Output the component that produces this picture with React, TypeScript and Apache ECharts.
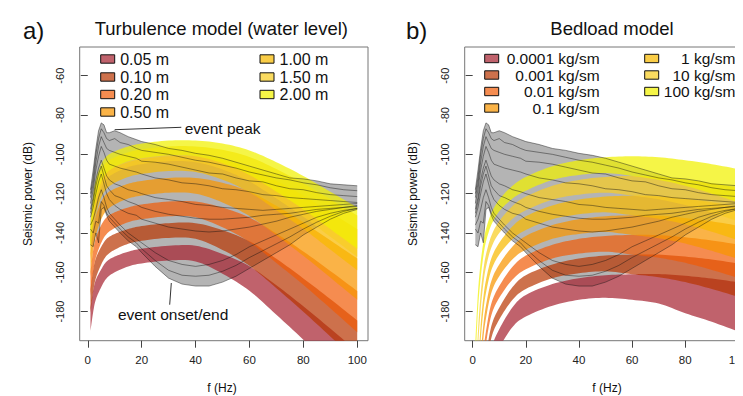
import React, { useEffect, useRef } from "react";
import * as echarts from "echarts";

const FONT = "'Liberation Sans', Arial, Helvetica, sans-serif";

const X_TICKS = [0, 20, 40, 60, 80, 100];
const Y_TICKS = [-180, -160, -140, -120, -100, -80, -60];

const TURB_LABELS = ["0.05 m", "0.10 m", "0.20 m", "0.50 m", "1.00 m", "1.50 m", "2.00 m"];
const BED_LABELS = ["0.0001 kg/sm", "0.001 kg/sm", "0.01 kg/sm", "0.1 kg/sm", "1 kg/sm", "10 kg/sm", "100 kg/sm"];
const BAND_COLORS = [
  "rgba(165,32,46,0.7)",
  "rgba(184,52,0,0.7)",
  "rgba(241,91,5,0.7)",
  "rgba(248,150,0,0.72)",
  "rgba(248,186,0,0.72)",
  "rgba(248,205,34,0.72)",
  "rgba(241,241,0,0.72)",
];

// ---------- observed spectra (gray cloud), same data in both panels ----------
const F_GRAY = [1, 2, 3, 4, 5, 6, 7, 8, 10, 12, 15, 18, 20, 25, 30, 35, 40, 45, 50, 55, 60, 65, 70, 75, 80, 85, 90, 95, 100];
const GRAY_MAX = [-118, -108, -97, -88, -84, -85, -89, -89, -88, -89, -91, -92.5, -93.5, -95, -97, -98, -99.5, -100.5, -102, -104, -106, -108, -110, -112, -112.5, -113.5, -115, -115.5, -116];
const GRAY_MIN = [-146, -147, -140, -145, -128, -127, -131, -134, -137, -140, -144, -147, -150, -157, -163, -166, -167, -167, -165, -162, -158, -154, -150, -146, -141, -137, -133, -130, -128];
const GRAY_L2 = [-120, -112, -100, -92, -87, -89, -92, -93, -92, -94, -95, -97, -98, -99, -100, -101.5, -103, -104, -105.5, -107, -109, -110.5, -112, -113, -114.5, -115.5, -117, -118, -118.5];
const GRAY_L3 = [-122, -115, -104, -96, -91, -94, -97, -98, -99, -100, -101, -102, -103.5, -104, -105, -106.5, -108, -109.5, -110, -112, -113.5, -114, -116, -117.5, -118, -119.5, -120.5, -121, -121.5];
const GRAY_L4 = [-125, -118, -108, -101, -96, -99, -103, -105, -106, -107, -108, -109, -110, -112, -113, -114.5, -115, -116, -117.5, -118, -119, -120.5, -121, -122, -122.5, -123, -123.5, -124, -124.5];
const GRAY_L5 = [-128, -122, -113, -107, -103, -107, -111, -113, -115, -116, -118, -119, -120, -122, -123, -124, -125.5, -126, -127, -127.5, -128, -128.5, -128, -127.5, -127, -126.5, -126, -125.5, -125];
const GRAY_L6 = [-132, -127, -120, -114, -110, -115, -120, -123, -126, -128, -130, -131, -133, -135, -137, -138, -139, -139.5, -139, -138, -137, -135.5, -134, -132, -130.5, -129, -128, -127, -126.5];
const GRAY_L7 = [-136, -133, -128, -122, -118, -122, -127, -130, -133, -136, -140, -143, -145, -150, -154, -156, -157, -156, -154, -151, -147, -144, -141, -138, -135, -132, -130, -128.5, -127.5];
const GRAY_L8 = [-130, -124, -116, -110, -106, -111, -116, -118, -121, -122, -124, -125.5, -127, -129, -130.5, -131.5, -132.5, -133, -133, -132.5, -132, -131, -130.5, -130, -129, -128, -127.5, -127, -126];
const GRAY_L9 = [-138, -140, -134, -135, -124, -126, -130, -132, -135, -138, -142, -145, -148, -154, -159, -161.5, -162, -161.5, -159.5, -156.5, -152.5, -149, -145.5, -142, -138, -134.5, -131.5, -129, -127.5];

// ---------- turbulence model bands (left panel) ----------
const F_TURB = [1, 2, 3, 5, 7, 10, 15, 20, 30, 40, 50, 60, 70, 80, 90, 100];
const T005_TOP = [-177.8, -169.2, -163.8, -158.5, -154.5, -152, -149.5, -148, -146.5, -146.5, -150.7, -156.9, -166.6, -177.3, -188.6, -200.3];
const T005_BOT = [-189.8, -180.2, -173.8, -167.5, -163, -160, -157, -155.5, -154, -154.5, -160.7, -169.4, -181.6, -194.3, -207.6, -221.3];
const T010_TOP = [-168.6, -158.8, -152.9, -147, -143, -140.5, -138, -136.5, -135, -135, -138.6, -144.2, -153.1, -163.1, -173.6, -184.5];
const T010_BOT = [-180.6, -169.8, -162.9, -156, -151.5, -148.5, -145.5, -144, -142.5, -143, -148.6, -156.7, -168.1, -180.1, -192.6, -205.5];
const T020_TOP = [-159.8, -148.9, -142.5, -136, -132, -129.5, -127, -125.5, -124, -124, -127.1, -132.1, -140.3, -149.4, -159.3, -169.5];
const T020_BOT = [-171.8, -159.9, -152.5, -145, -140.5, -137.5, -134.5, -133, -131.5, -132, -137.1, -144.6, -155.3, -166.4, -178.3, -190.5];
const T050_TOP = [-150.2, -138.1, -131.1, -124, -120, -117.5, -115, -113.5, -112, -112, -114.5, -118.9, -126.2, -134.6, -143.7, -153];
const T050_BOT = [-162.2, -149.1, -141.1, -133, -128.5, -125.5, -122.5, -121, -119.5, -120, -124.5, -131.4, -141.2, -151.6, -162.7, -174];
const T100_TOP = [-141.4, -128.2, -120.6, -113, -109, -106.5, -104, -102.5, -101, -101, -102.9, -106.8, -113.4, -120.9, -129.4, -138];
const T100_BOT = [-153.4, -139.2, -130.6, -122, -117.5, -114.5, -111.5, -110, -108.5, -109, -112.9, -119.3, -128.4, -137.9, -148.4, -159];
const T150_TOP = [-137.4, -123.7, -115.9, -108, -104, -101.5, -99, -97.5, -96, -96, -97.7, -101.3, -107.5, -114.7, -122.9, -131.1];
const T150_BOT = [-149.4, -134.7, -125.9, -117, -112.5, -109.5, -106.5, -105, -103.5, -104, -107.7, -113.8, -122.5, -131.7, -141.9, -152.1];
const T200_TOP = [-135, -121, -113, -105, -101, -98.5, -96, -94.5, -93, -93, -94.5, -98, -104, -111, -119, -127];
const T200_BOT = [-147, -132, -123, -114, -109.5, -106.5, -103.5, -102, -100.5, -101, -104.5, -110.5, -119, -128, -138, -148];

// ---------- bedload model bands (right panel) ----------
const F_BED = [1, 2, 3, 4, 5, 7, 10, 15, 20, 30, 40, 50, 60, 70, 80, 90, 100];
const B00001_TOP = [-345, -290, -251, -229, -216, -199, -189, -177.8, -171.5, -166, -163, -161.5, -161, -160.9, -161.8, -163.2, -165.1];
const B00001_BOT = [-359, -301, -261, -238, -225, -208, -198.5, -187.8, -182.5, -177, -174, -173, -174, -175.9, -180.8, -185.2, -190.1];
const B0001_TOP = [-320, -270, -235, -215, -203, -187.5, -178, -167.5, -161.5, -156, -153, -151.5, -151, -151, -152, -153.5, -155.5];
const B0001_BOT = [-332, -279, -243, -222, -209.5, -193.5, -184, -174, -168.5, -163, -160.5, -159.5, -161, -162.5, -165, -168.5, -172.5];
const B001_TOP = [-295, -250, -219, -201, -190, -176, -167, -157.2, -151.5, -146, -143, -141.5, -141, -141.1, -142.2, -143.8, -145.9];
const B001_BOT = [-307, -259, -227, -208, -196.5, -182, -173, -163.7, -158.5, -153, -150.5, -149.5, -151, -152.6, -155.2, -158.8, -162.9];
const B01_TOP = [-270, -230, -203, -187, -177, -164.5, -156, -146.9, -141.5, -136, -133, -131.5, -131, -131.2, -132.4, -134.1, -136.3];
const B01_BOT = [-282, -239, -211, -194, -183.5, -170.5, -162, -153.4, -148.5, -143, -140.5, -139.5, -141, -142.7, -145.4, -149.1, -153.3];
const B1_TOP = [-245, -210, -187, -173, -164, -153, -145, -136.6, -131.5, -126, -123, -121.5, -121, -121.3, -122.6, -124.4, -126.7];
const B1_BOT = [-257, -219, -195, -180, -170.5, -159, -151, -143.1, -138.5, -133, -130.5, -129.5, -131, -132.8, -135.6, -139.4, -143.7];
const B10_TOP = [-220, -190, -171, -159, -151, -141.5, -134, -126.3, -121.5, -116, -113, -111.5, -111, -111.4, -112.8, -114.7, -117.1];
const B10_BOT = [-232, -199, -179, -166, -157.5, -147.5, -140, -132.8, -128.5, -123, -120.5, -119.5, -121, -122.9, -125.8, -129.7, -134.1];
const B100_TOP = [-195, -170, -155, -145, -138, -130, -123, -116, -111.5, -106, -103, -101.5, -101, -101.5, -103, -105, -107.5];
const B100_BOT = [-207, -179, -163, -152, -144.5, -136, -129, -122.5, -118.5, -113, -110.5, -109.5, -111, -113, -116, -120, -124.5];

const TURB_BANDS = [
  [T005_TOP, T005_BOT], [T010_TOP, T010_BOT], [T020_TOP, T020_BOT], [T050_TOP, T050_BOT],
  [T100_TOP, T100_BOT], [T150_TOP, T150_BOT], [T200_TOP, T200_BOT],
];
const BED_BANDS = [
  [B00001_TOP, B00001_BOT], [B0001_TOP, B0001_BOT], [B001_TOP, B001_BOT], [B01_TOP, B01_BOT],
  [B1_TOP, B1_BOT], [B10_TOP, B10_BOT], [B100_TOP, B100_BOT],
];
const GRAY_LINES = [GRAY_MAX, GRAY_L2, GRAY_L3, GRAY_L4, GRAY_L5, GRAY_L8, GRAY_L6, GRAY_L7, GRAY_L9, GRAY_MIN];

// Catmull-Rom smoothing of a pixel polyline (drawing only)
function smoothPath(pts: number[][], steps: number): number[][] {
  if (steps <= 1 || pts.length < 3) return pts;
  const out: number[][] = [];
  for (let i = 0; i < pts.length - 1; i++) {
    const p0 = pts[Math.max(0, i - 1)];
    const p1 = pts[i];
    const p2 = pts[i + 1];
    const p3 = pts[Math.min(pts.length - 1, i + 2)];
    for (let s = 0; s < steps; s++) {
      const t = s / steps;
      const t2 = t * t;
      const t3 = t2 * t;
      const c = (a: number, b: number, cc: number, d: number) =>
        0.5 * (2 * b + (-a + cc) * t + (2 * a - 5 * b + 4 * cc - d) * t2 + (-a + 3 * b - 3 * cc + d) * t3);
      out.push([c(p0[0], p1[0], p2[0], p3[0]), c(p0[1], p1[1], p2[1], p3[1])]);
    }
  }
  out.push(pts[pts.length - 1]);
  return out;
}

function bandSeries(id: string, f: number[], top: number[], bot: number[], color: string, axis: number, steps: number) {
  return {
    type: "custom",
    name: id,
    xAxisIndex: axis,
    yAxisIndex: axis,
    silent: true,
    clip: true,
    data: f.map((x, i) => [x, top[i], bot[i]]),
    encode: { x: 0, y: [1, 2] },
    renderItem: (params: any, api: any) => {
      if (params.dataIndex !== 0) return null;
      const up = f.map((x, i) => api.coord([x, top[i]]));
      const lo = f.map((x, i) => api.coord([x, bot[i]]));
      const pts = smoothPath(up, steps).concat(smoothPath(lo, steps).reverse());
      return {
        type: "polygon",
        shape: { points: pts },
        style: { fill: color, stroke: null },
      };
    },
  };
}

function panelSeries(axis: number, bands: number[][][], prefix: string) {
  const s: any[] = [];
  s.push(bandSeries(prefix + "gray", F_GRAY, GRAY_MAX, GRAY_MIN, "rgba(105,105,105,0.5)", axis, 1));
  GRAY_LINES.forEach((arr, k) => {
    s.push({
      type: "line", xAxisIndex: axis, yAxisIndex: axis, symbol: "none", silent: true, smooth: 0,
      name: prefix + "g" + k,
      data: F_GRAY.map((x, i) => [x, arr[i]]),
      lineStyle: { color: "rgba(15,15,15,0.55)", width: 0.8 },
    });
  });
  bands.forEach((b, k) => {
    s.push(bandSeries(prefix + "b" + k, axis === 0 ? F_TURB : F_BED, b[0], b[1], BAND_COLORS[k], axis, 8));
  });
  return s;
}

function axisPair(i: number) {
  const tickStyle = { color: "#444", width: 1 };
  return {
    x: {
      type: "value", gridIndex: i, min: -3, max: 104,
      axisLine: { show: false },
      axisTick: { show: true, inside: false, length: 7, lineStyle: tickStyle, customValues: X_TICKS },
      axisLabel: { show: true, customValues: X_TICKS, margin: 13, fontSize: 11.5, color: "#222", fontFamily: FONT },
      splitLine: { show: false },
    },
    y: {
      type: "value", gridIndex: i, min: -194.8, max: -45.4,
      axisLine: { show: false },
      axisTick: { show: true, inside: false, length: 7, lineStyle: tickStyle, customValues: Y_TICKS },
      axisLabel: { show: true, customValues: Y_TICKS, rotate: 90, margin: 14, fontSize: 11, color: "#222", fontFamily: FONT },
      splitLine: { show: false },
    },
  };
}

function legendGraphics(labels: string[], left: boolean) {
  const g: any[] = [];
  const rowsL = [51, 69, 86.5, 104];
  const rowsR = [50.5, 67, 83.5, 100];
  labels.forEach((lab, k) => {
    const col = k < 4 ? 0 : 1;
    const row = k < 4 ? k : k - 4;
    const y = left ? rowsL[row] : rowsR[row];
    const sx = left ? (col === 0 ? 92.7 : 252) : (col === 0 ? 476.7 : 636.7);
    g.push({
      type: "rect", shape: { x: sx, y: y - 4.2, width: 14, height: 8.4 },
      style: { fill: BAND_COLORS[k], stroke: "#111", lineWidth: 1 },
    });
    if (left) {
      g.push({
        type: "text", x: sx + 19.5, y,
        style: { text: lab, fontSize: 16, fontFamily: FONT, fill: "#111", textAlign: "left", textVerticalAlign: "middle" },
      });
    } else {
      g.push({
        type: "text", x: col === 0 ? 591.7 : 727.3, y,
        style: { text: lab, fontSize: 15.5, fontFamily: FONT, fill: "#111", textAlign: "right", textVerticalAlign: "middle" },
      });
    }
  });
  return g;
}

export default function App() {
  const ref = useRef<HTMLDivElement>(null);
  useEffect(() => {
    if (!ref.current) return;
    const chart = echarts.init(ref.current, undefined, { renderer: "svg" });
    const a0 = axisPair(0);
    const a1 = axisPair(1);
    const txt = (text: string, x: number, y: number, size: number, align = "center", extra: any = {}) => ({
      type: "text", x, y, ...extra,
      style: { text, fontSize: size, fontFamily: FONT, fill: "#111", textAlign: align, textVerticalAlign: "middle" },
    });
    const option: any = {
      animation: false,
      backgroundColor: "#fff",
      grid: [
        { left: 71.7, top: 39, width: 288.3, height: 293.7, show: true, borderColor: "#777", borderWidth: 1, backgroundColor: "transparent" },
        { left: 456.7, top: 39, width: 288.3, height: 293.7, show: true, borderColor: "#777", borderWidth: 1, backgroundColor: "transparent" },
      ],
      xAxis: [a0.x, a1.x],
      yAxis: [a0.y, a1.y],
      series: [...panelSeries(0, TURB_BANDS, "L"), ...panelSeries(1, BED_BANDS, "R")],
      graphic: [
        txt("a)", 15, 22, 24, "left"),
        txt("Turbulence model (water level)", 213.3, 20, 18.5),
        txt("b)", 398, 22, 24, "left"),
        txt("Bedload model", 604, 20, 18.5),
        txt("f (Hz)", 214, 380, 12),
        txt("f (Hz)", 599, 380, 12),
        txt("Seismic power (dB)", 20, 186, 12, "center", { rotation: Math.PI / 2 }),
        txt("Seismic power (dB)", 405, 186, 12, "center", { rotation: Math.PI / 2 }),
        ...legendGraphics(TURB_LABELS, true),
        ...legendGraphics(BED_LABELS, false),
        { type: "line", shape: { x1: 106.7, y1: 121.7, x2: 173.3, y2: 119.3 }, style: { stroke: "#333", lineWidth: 1 } },
        txt("event peak", 176.7, 120.5, 15.5, "left"),
        { type: "line", shape: { x1: 163.3, y1: 275, x2: 161.7, y2: 296.7 }, style: { stroke: "#333", lineWidth: 1 } },
        txt("event onset/end", 110, 306, 15.5, "left"),
      ],
    };
    chart.setOption(option);
    return () => chart.dispose();
  }, []);
  return <div ref={ref} style={{ width: 743, height: 396 }} />;
}
